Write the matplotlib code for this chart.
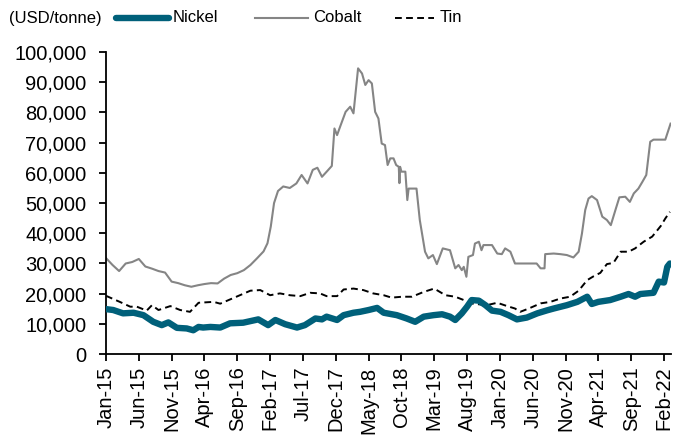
import matplotlib
matplotlib.use("Agg")
import matplotlib.pyplot as plt
from matplotlib.ticker import FuncFormatter
from matplotlib.lines import Line2D

plt.rcParams['font.family'] = ['Liberation Sans', 'DejaVu Sans']

# x values are months elapsed since Jan-2015
tick_labels = ["Jan-15", "Jun-15", "Nov-15", "Apr-16", "Sep-16", "Feb-17", "Jul-17",
               "Dec-17", "May-18", "Oct-18", "Mar-19", "Aug-19", "Jan-20", "Jun-20",
               "Nov-20", "Apr-21", "Sep-21", "Feb-22"]
tick_months = [0, 5, 10, 15, 20, 25, 30, 35, 40, 45, 50, 55, 60, 65, 70, 75, 80, 85]

nickel_m = [0, 1.1, 2.6, 4.2, 5.7, 7.2, 8.5, 9.5, 10.8, 12.3, 13.3, 14.1, 14.8, 15.9, 17.4,
            18.9, 20.9, 23.2, 24.7, 25.8, 27.3, 29.1, 30.3, 31.9, 32.9, 33.6, 35.2, 36.2,
            37.7, 38.7, 40, 41.3, 42.3, 44.3, 45.8, 47.1, 48.4, 49.9, 51.2, 52.4, 53.2,
            54.2, 55, 55.7, 56.8, 57.8, 58.8, 60.1, 61.3, 62.6, 64.1, 65.7, 67.2, 68.2,
            70.2, 71.8, 73.3, 74, 75, 76.8, 78.4, 79.6, 80.6, 81.4, 83.4, 84.2, 85, 85.5, 85.9]
nickel_v = [14900, 14600, 13500, 13700, 12900, 10700, 9600, 10500, 8700, 8500, 7900, 9000,
            8800, 9000, 8800, 10200, 10400, 11500, 9600, 11300, 9900, 8800, 9600, 11800,
            11500, 12400, 11300, 12900, 13700, 14000, 14600, 15300, 13700, 12900, 11800,
            10700, 12400, 12900, 13200, 12400, 11300, 13500, 15700, 17900, 17700, 16200,
            14400, 14000, 12900, 11500, 12100, 13500, 14500, 15100, 16200, 17300, 19000,
            16600, 17300, 17900, 19000, 19900, 19000, 19900, 20300, 24000, 23700, 28900, 30000]

cobalt_m = [0, 1, 2, 3, 4, 5, 6, 7, 8, 9, 10, 11, 12, 13, 14, 15, 16, 17, 18, 19, 20, 21,
            22, 23, 24, 24.6, 25.1, 25.6, 26.2, 27, 28, 29, 29.8, 30.7, 31.5, 32.2, 32.9,
            33.7, 34.4, 34.8, 35.2, 35.7, 36.5, 37.2, 37.7, 38.4, 39, 39.5, 40, 40.5, 41,
            41.5, 42, 42.5, 42.9, 43.3, 43.8, 44.2, 44.6, 44.7, 44.8, 45, 45.6, 45.9, 46.1,
            47.3, 47.8, 48.6, 49.1, 49.8, 50.4, 51.3, 52.4, 53.2, 53.7, 54.2, 54.5, 54.9,
            55.2, 55.9, 56.2, 56.8, 57.2, 57.5, 58.8, 59.6, 60.3, 60.8, 61.6, 62.3, 65.6,
            66.2, 66.8, 66.9, 68.2, 69.2, 70.2, 71.2, 72, 72.5, 73, 73.5, 74, 74.8, 75.6,
            76.3, 76.9, 77.6, 78.2, 79.1, 79.8, 80.4, 81.1, 81.7, 82.3, 82.9, 83.4, 85.2,
            85.5, 86]
cobalt_v = [31800, 29500, 27500, 30000, 30500, 31500, 29000, 28300, 27500, 27000, 24000,
            23500, 22800, 22300, 22800, 23200, 23500, 23400, 25000, 26200, 26800, 27800,
            29500, 31700, 34000, 36700, 42200, 50000, 54000, 55500, 55000, 56500, 59300,
            56500, 61000, 61700, 58700, 60600, 62300, 74700, 72500, 75500, 80200, 81900,
            79700, 94600, 92900, 89100, 90700, 89600, 80200, 78000, 69700, 69200, 62600,
            64800, 64800, 62600, 62000, 56600, 62000, 60400, 60400, 51000, 54800, 54800,
            44400, 33900, 31700, 32800, 29800, 35000, 34400, 28400, 29500, 27800, 28900,
            25600, 32200, 32800, 36600, 37200, 34400, 36100, 36100, 33300, 33100, 35000,
            33900, 30000, 30000, 28400, 28400, 33100, 33300, 33100, 32800, 32000, 33900,
            39900, 47700, 51500, 52300, 51000, 45500, 44400, 42700, 47700, 51900, 52100,
            50400, 53200, 54800, 57000, 59300, 70300, 71000, 71000, 73000, 76300]

tin_m = [0, 2.1, 3.7, 4.7, 6.2, 7, 8, 9.8, 11.3, 12.8, 14.1, 16.4, 17.4, 18.9, 20.4, 22,
         23.5, 25, 26.5, 28, 29.6, 31.1, 32.6, 33.6, 35.2, 36.2, 37.7, 39.2, 40.7, 42.3,
         43.5, 45.1, 46.6, 48.4, 50, 51.7, 53.2, 54.5, 55.5, 56.8, 58, 59.6, 61.1, 62.3,
         63.1, 64.4, 66.2, 67.7, 69.2, 70.7, 72, 73.3, 74.3, 75.3, 76.3, 77.3, 78.4, 79.6,
         80.6, 81.9, 83.2, 84.5, 85.2, 85.9]
tin_v = [19300, 17300, 15700, 15700, 14400, 16200, 14600, 15900, 14600, 14000, 17000, 17300,
         16700, 18100, 19500, 21000, 21200, 19500, 20100, 19500, 19200, 20300, 20100, 19200,
         19200, 21400, 21700, 21200, 20100, 19500, 18700, 19000, 19000, 20600, 21700, 19500,
         19000, 17900, 16800, 16500, 16200, 17000, 15900, 15100, 14000, 15100, 16800, 17300,
         18400, 19000, 21000, 24500, 25800, 26900, 29800, 30200, 33900, 33900, 35000, 37200,
         38900, 42400, 44900, 47100]

NICKEL_C = "#00607A"
COBALT_C = "#858585"
W, H = 686, 441

fig = plt.figure(figsize=(6.86, 4.41), dpi=100)
ax = fig.add_axes([0.1545, 0.197, 0.823, 0.685])

ax.plot(cobalt_m, cobalt_v, color=COBALT_C, lw=1.5, zorder=2)
ax.plot(tin_m, tin_v, color="black", lw=1.4, ls=(0, (3.5, 2.2)), zorder=3)
ax.plot(nickel_m, nickel_v, color=NICKEL_C, lw=4.6, zorder=4, solid_capstyle="round",
        solid_joinstyle="round")

ax.set_xlim(0, 86)
ax.set_ylim(0, 100000)
ax.set_yticks(range(0, 100001, 10000))
ax.yaxis.set_major_formatter(FuncFormatter(lambda v, p: f"{int(v):,}"))
ax.set_xticks(tick_months)
ax.set_xticklabels(tick_labels, rotation=90)

for s in ["top", "right"]:
    ax.spines[s].set_visible(False)
for s in ["left", "bottom"]:
    ax.spines[s].set_linewidth(1.3)
    ax.spines[s].set_color("black")
ax.tick_params(axis="both", direction="out", length=5, width=1.3, labelsize=14.5,
               color="black")
ax.tick_params(axis="y", pad=9)
ax.tick_params(axis="x", pad=4)

# legend row
ly = 1 - 18 / H
fs = 12
fig.text(9 / W, ly, "(USD/tonne)", fontsize=fs, va="center", ha="left")
fig.add_artist(Line2D([116 / W, 169 / W], [ly, ly], transform=fig.transFigure,
                      color=NICKEL_C, lw=4.6, solid_capstyle="round"))
fig.text(173 / W, ly, "Nickel", fontsize=fs, va="center", ha="left")
fig.add_artist(Line2D([255 / W, 308 / W], [ly, ly], transform=fig.transFigure,
                      color=COBALT_C, lw=1.5))
fig.text(313 / W, ly, "Cobalt", fontsize=fs, va="center", ha="left")
fig.add_artist(Line2D([395 / W, 434 / W], [ly, ly], transform=fig.transFigure,
                      color="black", lw=1.4, ls=(0, (3.5, 2.2))))
fig.text(440 / W, ly, "Tin", fontsize=fs, va="center", ha="left")

fig.savefig("out.png", dpi=100)
